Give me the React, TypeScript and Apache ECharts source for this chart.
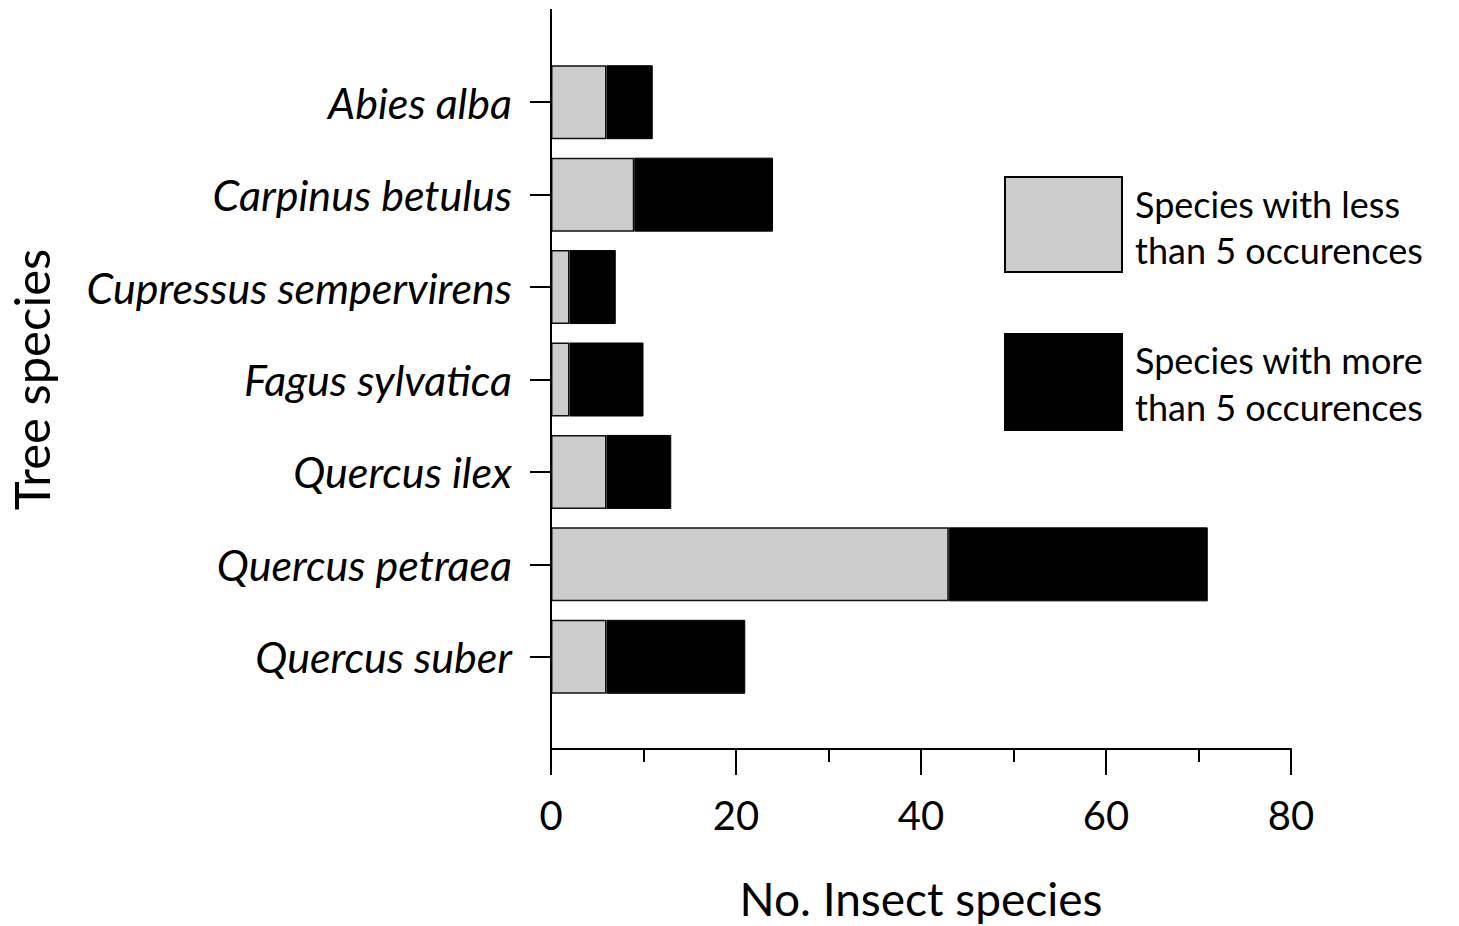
import React, { useEffect, useRef } from "react";
import * as echarts from "echarts";

const treeSpecies = [
  "Abies alba",
  "Carpinus betulus",
  "Cupressus sempervirens",
  "Fagus sylvatica",
  "Quercus ilex",
  "Quercus petraea",
  "Quercus suber",
];
const lessThan5 = [6, 9, 2, 2, 6, 43, 6];
const moreThan5 = [5, 15, 5, 8, 7, 28, 15];
const xTicks = [0, 20, 40, 60, 80];
const legendLess = ["Species with less", "than 5 occurences"];
const legendMore = ["Species with more", "than 5 occurences"];

const FONT = "Lato";

export default function App() {
  const ref = useRef<HTMLDivElement>(null);
  useEffect(() => {
    if (!ref.current) return;
    const chart = echarts.init(ref.current, null, { renderer: "svg" });
    chart.setOption({
      animation: false,
      backgroundColor: "#ffffff",
      textStyle: { fontFamily: FONT, color: "#000" },
      grid: { left: 551, right: 168, top: 56, bottom: 223, containLabel: false, outerBoundsMode: "none" },
      xAxis: {
        type: "value",
        min: xTicks[0],
        max: xTicks[xTicks.length - 1],
        interval: 20,
        offset: 46,
        axisLine: { show: true, lineStyle: { color: "#000", width: 2 } },
        axisTick: { show: true, length: 26, lineStyle: { color: "#000", width: 2 } },
        minorTick: { show: true, splitNumber: 2, length: 13, lineStyle: { color: "#000", width: 2 } },
        splitLine: { show: false },
        axisLabel: { fontSize: 40, color: "#000", margin: 46, fontFamily: FONT },
        name: "No. Insect species",
        nameLocation: "middle",
        nameGap: 126,
        nameTextStyle: { fontSize: 46, lineHeight: 46, color: "#000", fontFamily: FONT },
      },
      yAxis: {
        type: "category",
        data: treeSpecies,
        inverse: true,
        axisLine: { show: false },
        axisTick: { show: true, alignWithLabel: true, length: 21, lineStyle: { color: "#000", width: 2 } },
        axisLabel: { fontSize: 43, fontStyle: "italic", color: "#000", margin: 39, fontFamily: FONT },
        name: "Tree species",
        nameLocation: "middle",
        nameGap: 496,
        nameRotate: 90,
        nameTextStyle: { fontSize: 49, color: "#000", fontFamily: FONT },
      },
      series: [
        {
          name: "Species with less than 5 occurences",
          type: "bar",
          stack: "total",
          data: lessThan5,
          barWidth: 74,
          itemStyle: { color: "#cccccc", borderColor: "#111", borderWidth: 1.5 },
        },
        {
          name: "Species with more than 5 occurences",
          type: "bar",
          stack: "total",
          data: moreThan5,
          barWidth: 74,
          itemStyle: { color: "#000000", borderColor: "#000", borderWidth: 1 },
        },
      ],
      graphic: [
        {
          type: "line",
          shape: { x1: 551, y1: 9, x2: 551, y2: 750 },
          style: { stroke: "#000", lineWidth: 2 },
          z: 100,
        },
        {
          type: "rect",
          shape: { x: 1005, y: 177, width: 117, height: 95 },
          style: { fill: "#cccccc", stroke: "#000", lineWidth: 2 },
        },
        {
          type: "rect",
          shape: { x: 1005, y: 334, width: 117, height: 96 },
          style: { fill: "#000", stroke: "#000", lineWidth: 2 },
        },
        {
          type: "text",
          x: 1135,
          y: 204,
          style: { text: legendLess[0], font: `36px ${FONT}`, fill: "#000", textVerticalAlign: "middle" },
        },
        {
          type: "text",
          x: 1135,
          y: 250,
          style: { text: legendLess[1], font: `36px ${FONT}`, fill: "#000", textVerticalAlign: "middle" },
        },
        {
          type: "text",
          x: 1135,
          y: 360,
          style: { text: legendMore[0], font: `36px ${FONT}`, fill: "#000", textVerticalAlign: "middle" },
        },
        {
          type: "text",
          x: 1135,
          y: 407,
          style: { text: legendMore[1], font: `36px ${FONT}`, fill: "#000", textVerticalAlign: "middle" },
        },
      ],
    });
    return () => chart.dispose();
  }, []);
  return <div ref={ref} style={{ width: 1459, height: 926, position: "absolute", left: 0, top: 0 }} />;
}
